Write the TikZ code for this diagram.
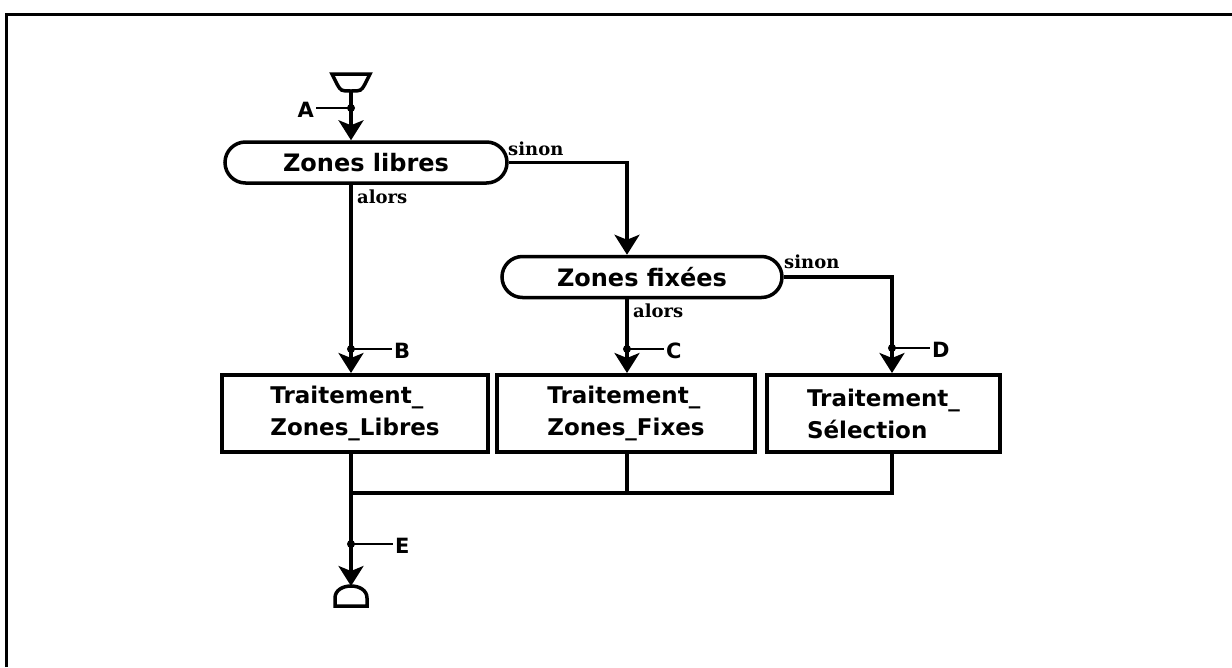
\documentclass[tikz,border=0pt]{standalone}
\usepackage{fontspec}
\setmainfont{DejaVu Sans}
\newfontfamily\lblfont{DejaVu Serif}
\usetikzlibrary{shapes.misc,arrows.meta,calc}
\begin{document}
\begin{tikzpicture}[x=1pt,y=-1pt,
  every node/.style={font=\bfseries\fontsize{23}{32}\selectfont, inner sep=0pt},
  conn/.style={line width=3.2pt},
  arr/.style={conn, -{Stealth[length=20pt,width=25pt,inset=5pt]}},
  tickline/.style={line width=2pt},
  decision/.style={rounded rectangle, draw, line width=3.5pt, minimum height=41pt,
    font=\bfseries\fontsize{24}{24}\selectfont},
  proc/.style={rectangle, draw, line width=4pt, minimum height=77pt, align=left},
  cond/.style={font=\lblfont\bfseries\fontsize{18}{18}\selectfont},
  letterlbl/.style={font=\bfseries\fontsize{21}{21}\selectfont, inner sep=2pt},
  term/.style={line width=3.5pt}]

\useasboundingbox (0,0) rectangle (1232,667);
% frame
\draw[line width=3pt] (6,667) -- (6,14) -- (1232,14);

% columns
\coordinate (col1) at (351,0);
\coordinate (col2) at (627,0);
\coordinate (col3) at (892,0);

% start symbol
\draw[term] (332,74) -- (370,74) -- (365,84) .. controls (361,91) .. (351,91)
  .. controls (341,91) .. (337,84) -- cycle;
\coordinate (start) at (351,91);

% decisions
\node[decision, minimum width=282pt] (libres) at (366,162.5) {Zones libres};
\node[decision, minimum width=280pt] (fixees) at (642,277) {Zones fixées};

% processes
\node[proc, minimum width=266pt] (boxB) at (355,413.5) {Traitement\_\\Zones\_Libres};
\node[proc, minimum width=258pt] (boxC) at (626,413.5) {Traitement\_\\Zones\_Fixes};
\node[proc, minimum width=233pt] (boxD) at (883.5,413.5) {Traitement\_\\Sélection};

% end symbol
\draw[term] (335,606) -- (367,606) -- (367,598) .. controls (367,590) and (359,586) .. (351,586)
  .. controls (343,586) and (335,590) .. (335,598) -- cycle;
\coordinate (endsym) at (351,586);

% connectors
\draw[arr] (start) -- (libres.north -| col1);
\draw[arr] (libres.south -| col1) -- (boxB.north -| col1);
\draw[arr] (libres.east) -| (fixees.north -| col2);
\draw[arr] (fixees.south -| col2) -- (boxC.north -| col2);
\draw[arr] (fixees.east) -| (boxD.north -| col3);

\coordinate (jn) at (351,493);
\draw[conn] (boxD.south -| col3) -- (col3 |- jn) -- (jn);
\draw[conn] (boxC.south -| col2) -- (col2 |- jn);
\draw[arr] (boxB.south -| col1) -- (endsym);

% condition labels
\node[cond, anchor=west] (s1) at (508,149) {sinon};
\node[cond, anchor=west] (a1) at (357,197) {alors};
\node[cond, anchor=west] (a2) at (633,311) {alors};
\node[cond, anchor=west] (s2) at (784,262) {sinon};

% marks
\coordinate (mA) at (351,108);
\coordinate (mB) at (351,349);
\coordinate (mC) at (627,349);
\coordinate (mD) at (892,348);
\coordinate (mE) at (351,544);
\foreach \m in {mA,mB,mC,mD,mE} \fill (\m) circle (4pt);

\node[letterlbl, anchor=east] (lA) at (316,110) {A};
\node[letterlbl, anchor=west] (lB) at (392,351) {B};
\node[letterlbl, anchor=west] (lC) at (664,351) {C};
\node[letterlbl, anchor=west] (lD) at (930,350) {D};
\node[letterlbl, anchor=west] (lE) at (393,546) {E};
\draw[tickline] (lA.east |- mA) -- (mA);
\draw[tickline] (mB) -- (lB.west |- mB);
\draw[tickline] (mC) -- (lC.west |- mC);
\draw[tickline] (mD) -- (lD.west |- mD);
\draw[tickline] (mE) -- (lE.west |- mE);
\end{tikzpicture}
\end{document}
